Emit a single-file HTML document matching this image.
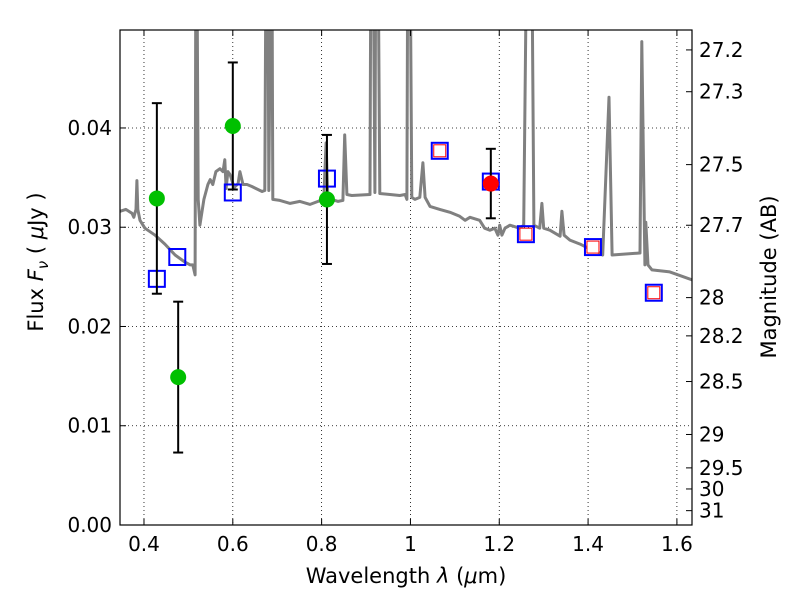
<!DOCTYPE html>
<html><head><meta charset="utf-8"><style>
html,body{margin:0;padding:0;background:#fff;}
svg{display:block;font-family:"DejaVu Sans","Liberation Sans",sans-serif;}
</style></head><body>
<svg id="chart" width="800" height="600" viewBox="0 0 800 600" xmlns="http://www.w3.org/2000/svg">
<rect x="0" y="0" width="800" height="600" fill="#fff"/>
<g id="grid"></g>
<g id="spec"></g>
<g id="marks"></g>
<rect x="120" y="30" width="572" height="495" fill="none" stroke="#000" stroke-width="1.2"/>
<g id="axes"></g>
<text x="406" y="583" font-size="21" text-anchor="middle">Wavelength  <tspan font-style="italic">λ</tspan> (<tspan font-style="italic">μ</tspan>m)</text>
<text transform="translate(43,262) rotate(-90)" font-size="21" text-anchor="middle">Flux  <tspan font-style="italic">F</tspan><tspan font-style="italic" font-size="15" dy="5">ν</tspan><tspan dy="-5">  (  </tspan><tspan font-style="italic">μ</tspan>Jy )</text>
<text transform="translate(776,277) rotate(-90)" font-size="21" text-anchor="middle">Magnitude (AB)</text>
</svg>
<script>
const specWave=[0.346,0.359,0.373,0.377,0.382,0.384,0.386,0.391,0.402,0.425,0.447,0.470,0.492,0.504,0.510,0.515,0.517,0.519,0.522,0.526,0.535,0.544,0.549,0.555,0.562,0.571,0.578,0.582,0.585,0.589,0.594,0.603,0.612,0.616,0.623,0.632,0.643,0.652,0.666,0.672,0.675,0.679,0.681,0.686,0.688,0.690,0.706,0.729,0.751,0.774,0.792,0.805,0.810,0.814,0.823,0.837,0.848,0.852,0.857,0.868,0.909,0.911,0.916,0.920,0.922,0.927,0.931,0.954,0.976,0.988,0.992,0.994,0.999,1.003,1.010,1.021,1.028,1.033,1.044,1.066,1.089,1.111,1.123,1.134,1.156,1.167,1.179,1.190,1.197,1.201,1.206,1.213,1.224,1.246,1.255,1.262,1.273,1.278,1.291,1.296,1.300,1.314,1.337,1.341,1.346,1.359,1.382,1.404,1.427,1.433,1.447,1.454,1.517,1.521,1.528,1.530,1.535,1.544,1.584,1.634];
const specFlux=[0.0316,0.0318,0.0314,0.0310,0.0318,0.0347,0.0318,0.0307,0.0299,0.0292,0.0283,0.0272,0.0265,0.0262,0.0262,0.0252,0.06,0.06,0.0328,0.0302,0.0328,0.0343,0.0348,0.0343,0.0356,0.0359,0.0356,0.0368,0.0339,0.0356,0.0353,0.0340,0.0344,0.0356,0.0343,0.0343,0.0341,0.0339,0.0336,0.0337,0.06,0.06,0.0337,0.06,0.06,0.0328,0.0327,0.0324,0.0326,0.0323,0.0326,0.0329,0.0385,0.0330,0.0328,0.0326,0.0327,0.0393,0.0333,0.0332,0.0333,0.06,0.06,0.0335,0.06,0.06,0.0334,0.0333,0.0332,0.0333,0.0328,0.06,0.06,0.0330,0.0328,0.0330,0.0365,0.0330,0.0321,0.0318,0.0315,0.0311,0.0307,0.0310,0.0307,0.0299,0.0297,0.0299,0.0292,0.0302,0.0292,0.0299,0.0302,0.0299,0.0302,0.06,0.06,0.0302,0.0299,0.0324,0.0299,0.0297,0.0291,0.0316,0.0292,0.0287,0.0283,0.0278,0.0274,0.0272,0.0431,0.0272,0.0274,0.0487,0.0262,0.0305,0.0262,0.0257,0.0255,0.0247];
const circWave=[0.429,0.477,0.600,0.812];
const circFlux=[0.0329,0.0149,0.0402,0.0328];
const circErr=[0.0096,0.0076,0.0064,0.0065];
const redWave=[1.181];
const redFlux=[0.0344];
const redErr=[0.0035];
const sqWave=[0.429,0.475,0.600,0.812,1.066,1.181,1.260,1.411,1.548];
const sqFlux=[0.0248,0.0270,0.0335,0.0349,0.0377,0.0346,0.0293,0.0280,0.0234];
const sqRed=[0,0,0,0,1,0,1,1,1];
const xTicks=[0.4,0.6,0.8,1.0,1.2,1.4,1.6];
const xTickLabels=["0.4","0.6","0.8","1","1.2","1.4","1.6"];
const yTicks=[0,0.01,0.02,0.03,0.04];
const yTickLabels=["0.00","0.01","0.02","0.03","0.04"];
const magTicks=[27.2,27.3,27.5,27.7,28,28.2,28.5,29,29.5,30,31];
const magTickLabels=["27.2","27.3","27.5","27.7","28","28.2","28.5","29","29.5","30","31"];

const X0=120,X1=692,Y0=30,Y1=525,XMIN=0.346,XMAX=1.634,YMIN=0,YMAX=0.04987;
const NS="http://www.w3.org/2000/svg";
function xs(v){return X0+(v-XMIN)/(XMAX-XMIN)*(X1-X0);}
function ys(v){return Y1-(v-YMIN)/(YMAX-YMIN)*(Y1-Y0);}
function magToFlux(m){return Math.pow(10,(23.9-m)/2.5);}
function mk(tag,parent,attrs){const e=document.createElementNS(NS,tag);for(const k in attrs)e.setAttribute(k,attrs[k]);parent.appendChild(e);return e;}
const grid=document.getElementById('grid'),axes=document.getElementById('axes'),spec=document.getElementById('spec'),marks=document.getElementById('marks');

xTicks.forEach((t,i)=>{const x=xs(t);
 let g=mk('line',grid,{x1:x,x2:x,y1:Y0,y2:Y1,stroke:'#000','stroke-width':0.8,'stroke-dasharray':'1,3'});
 
 let tk=mk('line',axes,{x1:x,x2:x,y1:Y1,y2:Y1-6,stroke:'#000','stroke-width':1});
 
 let tk2=mk('line',axes,{x1:x,x2:x,y1:Y0,y2:Y0+6,stroke:'#000','stroke-width':1});
 
 let t1=mk('text',axes,{x:x,y:Y1+26,'font-size':20,'text-anchor':'middle'});t1.textContent=xTickLabels[i];
 });
yTicks.forEach((t,i)=>{const y=ys(t);
 if(t>0){let g=mk('line',grid,{x1:X0,x2:X1,y1:y,y2:y,stroke:'#000','stroke-width':0.8,'stroke-dasharray':'1,3'});
 }
 let tk=mk('line',axes,{x1:X0,x2:X0+6,y1:y,y2:y,stroke:'#000','stroke-width':1});
 
 let t1=mk('text',axes,{x:X0-8,y:y+7,'font-size':20,'text-anchor':'end'});t1.textContent=yTickLabels[i];
 });
magTicks.forEach((m,i)=>{const y=ys(magToFlux(m));
 let tk=mk('line',axes,{x1:X1,x2:X1-6,y1:y,y2:y,stroke:'#000','stroke-width':1});
 
 let t1=mk('text',axes,{x:X1+7,y:y+7,'font-size':20,'text-anchor':'start'});t1.textContent=magTickLabels[i];
 });

const cp=mk('clipPath',spec,{id:'clip'});mk('rect',cp,{x:X0,y:Y0,width:X1-X0,height:Y1-Y0});
let d=specWave.map((w,i)=>(i?'L':'M')+xs(w).toFixed(1)+','+ys(specFlux[i]).toFixed(1)).join(' ');
const sp=mk('path',spec,{d:d,fill:'none',stroke:'#808080','stroke-width':3,'stroke-linejoin':'round','clip-path':'url(#clip)'});


sqWave.forEach((w,i)=>{const x=xs(w),y=ys(sqFlux[i]);
 let s=mk('rect',marks,{x:x-8,y:y-8,width:16,height:16,fill:'none',stroke:'#0000ff','stroke-width':2});
 
 if(sqRed[i]){let r=mk('rect',marks,{x:x-6,y:y-6,width:12,height:12,fill:'#fff',stroke:'#ff0000','stroke-width':1});
 }});
function pts(wv,fl,er,col,name){wv.forEach((w,i)=>{const x=xs(w);
 const e=mk('g',marks,{});
 const yt=ys(fl[i]+er[i]),yb=ys(fl[i]-er[i]);
 mk('line',e,{x1:x,x2:x,y1:yt,y2:yb,stroke:'#000','stroke-width':2});
 mk('line',e,{x1:x-5,x2:x+5,y1:yt,y2:yt,stroke:'#000','stroke-width':2});
 mk('line',e,{x1:x-5,x2:x+5,y1:yb,y2:yb,stroke:'#000','stroke-width':2});
 const c=mk('circle',marks,{cx:x,cy:ys(fl[i]),r:8,fill:col});
 });}
pts(circWave,circFlux,circErr,'#00c000','observed-point');
pts(redWave,redFlux,redErr,'#ff0000','observed-point-red');
</script>
</body></html>
